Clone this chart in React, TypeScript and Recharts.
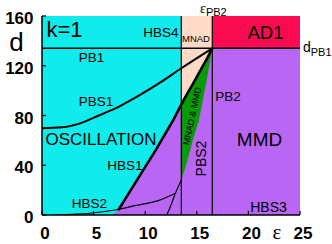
import React from 'react';
import { ComposedChart, XAxis, YAxis, Area, Line, ReferenceLine, ReferenceDot } from 'recharts';

const FONT = '"Liberation Sans", Arial, Helvetica, sans-serif';
const SERIF = '"Liberation Serif", "DejaVu Serif", serif';

const xTicks = [0, 5, 10, 15, 20, 25];
const yTicks = [0, 40, 80, 120, 160];
const innerXTicks = [5, 10, 15, 20];
const innerYTicks = [40, 80, 120];

const dPB1 = 134;
const epsMNAD = 13.5;
const epsPB2 = 16.5;

// HBS1 boundary (thick line)
const hbs1Eps = [7.4, 9.2, 11.0, 12.7, 13.5, 14.1, 14.6, 15.2, 16.0, 16.5];
const hbs1D = [4, 28, 52, 76, 89, 98, 105, 114, 126, 134];

// PBS2 upper branch (right edge of green region)
const pbs2UpEps = [13.5, 14.1, 14.6, 15.2, 16.0, 16.5];
const pbs2UpD = [28, 44, 60, 76, 110, 134];

// PBS2 lower branch
const pbs2LoEps = [12.1, 12.5, 12.9, 13.5];
const pbs2LoD = [0, 8, 17, 28];

// PBS1
const pbs1Eps = [0, 1.94, 3.68, 5.62, 7.56, 9.5, 11.43, 13.5, 16.5];
const pbs1D = [69.7, 70.5, 73.7, 80.4, 87.6, 96.5, 106.4, 118, 134];

// HBS2
const hbs2Eps = [1.2, 3, 4.65, 7.07, 9, 11.4, 13.0];
const hbs2D = [0, 0.6, 1.4, 4, 7.5, 12, 17.7];

// Oscillation region lower boundary
const oscEps = [0, 6.8, 7.4, 9.2, 11.0, 12.7, 13.5];
const oscLow = [0, 0, 4, 28, 52, 76, 89];

const TOP = 160;

const CYAN = '#10ECEC';
const PURPLE = '#B966F4';
const RED = '#FA0A50';
const PEACH = '#FFDAC6';
const GREEN = '#089A08';

const pts = (es: number[], ds: number[]) => es.map((e, i) => ({ e, d: ds[i] }));
const band = (es: number[], lo: number[], hi: number[]) => es.map((e, i) => ({ e, r: [lo[i], hi[i]] }));

const purpleData = band([0, 25], [0, 0], [dPB1, dPB1]);
const redData = band([epsPB2, 25], [dPB1, dPB1], [TOP, TOP]);
const cyanData = band(oscEps, oscLow, oscEps.map(() => TOP));
const peachData = band(pbs2UpEps, hbs1D.slice(4), pbs2UpEps.map(() => TOP));
const greenData = band(pbs2UpEps, pbs2UpD, hbs1D.slice(4));

type TagOpts = {
  size: number;
  rot?: number;
  anchor?: 'start' | 'middle' | 'end';
  baseline?: boolean;
  sub?: string;
  subSize?: number;
  subDy?: number;
  family?: string;
};

function tag(key: string, e: number, d: number, text: string, o: TagOpts) {
  return (
    <ReferenceDot
      key={key}
      x={e}
      y={d}
      r={0}
      ifOverflow="visible"
      shape={(p: any) => {
        const cx = p.cx;
        const cy = p.cy;
        return (
          <text
            x={cx}
            y={cy}
            dy={o.baseline ? 0 : '0.36em'}
            textAnchor={o.anchor || 'middle'}
            fontSize={o.size}
            fontFamily={o.family || FONT}
            fill="#000"
            transform={o.rot ? `rotate(${o.rot} ${cx} ${cy})` : undefined}
          >
            {text}
            {o.sub ? (
              <tspan fontSize={o.subSize} dy={o.subDy} fontFamily={FONT}>
                {o.sub}
              </tspan>
            ) : null}
          </text>
        );
      }}
    />
  );
}

const XTick = (p: any) => (
  <text x={p.x + 3} y={p.y + 28} textAnchor="middle" fontSize={17} fontWeight="bold" fontFamily={FONT} fill="#000">
    {p.payload.value}
  </text>
);

const YTick = (p: any) => (
  <text x={p.x - 12.5} y={p.y + 8} textAnchor="end" fontSize={17} fontWeight="bold" fontFamily={FONT} fill="#000">
    {p.payload.value}
  </text>
);

const axisLine = { stroke: '#000', strokeWidth: 1.5 };
const tickLine = { stroke: '#000', strokeWidth: 1.2 };

export default function App() {
  return (
    <div style={{ position: 'absolute', left: 0, top: 0, width: 332, height: 244, background: '#fff' }}>
      <ComposedChart width={332} height={244} margin={{ top: 16, right: 32, left: 0, bottom: 0 }}>
        <XAxis
          xAxisId={0}
          dataKey="e"
          type="number"
          domain={[0, 25]}
          ticks={xTicks}
          interval={0}
          allowDataOverflow
          height={29}
          tickSize={-4}
          tickMargin={0}
          axisLine={axisLine}
          tickLine={tickLine}
          tick={<XTick />}
        />
        <XAxis
          xAxisId="top"
          orientation="top"
          dataKey="e"
          type="number"
          domain={[0, 25]}
          ticks={innerXTicks}
          interval={0}
          allowDataOverflow
          height={0}
          tickSize={-4}
          axisLine={axisLine}
          tickLine={tickLine}
          tick={false}
        />
        <YAxis
          yAxisId={0}
          type="number"
          domain={[0, 160]}
          ticks={yTicks}
          interval={0}
          allowDataOverflow
          width={42}
          tickSize={-4}
          tickMargin={0}
          axisLine={axisLine}
          tickLine={tickLine}
          tick={<YTick />}
        />
        <YAxis
          yAxisId="right"
          orientation="right"
          type="number"
          domain={[0, 160]}
          ticks={innerYTicks}
          interval={0}
          allowDataOverflow
          width={0}
          tickSize={-4}
          axisLine={axisLine}
          tickLine={tickLine}
          tick={false}
        />

        <Area data={purpleData} dataKey="r" type="linear" fill={PURPLE} fillOpacity={1} stroke="none" isAnimationActive={false} dot={false} activeDot={false} />
        <Area data={redData} dataKey="r" type="linear" fill={RED} fillOpacity={1} stroke="none" isAnimationActive={false} dot={false} activeDot={false} />
        <Area data={cyanData} dataKey="r" type="linear" fill={CYAN} fillOpacity={1} stroke="none" isAnimationActive={false} dot={false} activeDot={false} />
        <Area data={peachData} dataKey="r" type="linear" fill={PEACH} fillOpacity={1} stroke="none" isAnimationActive={false} dot={false} activeDot={false} />
        <Area data={greenData} dataKey="r" type="linear" fill={GREEN} fillOpacity={1} stroke="none" isAnimationActive={false} dot={false} activeDot={false} />

        <ReferenceLine y={dPB1} stroke="#000" strokeWidth={1.5} />
        <ReferenceLine x={epsMNAD} stroke="#000" strokeWidth={1.2} />
        <ReferenceLine x={epsPB2} stroke="#000" strokeWidth={1.2} />

        <Line data={pts(hbs2Eps, hbs2D)} dataKey="d" type="monotone" stroke="#000" strokeWidth={1.2} dot={false} activeDot={false} isAnimationActive={false} />
        <Line data={pts(pbs2LoEps, pbs2LoD)} dataKey="d" type="monotone" stroke="#000" strokeWidth={1.2} dot={false} activeDot={false} isAnimationActive={false} />
        <Line data={pts(pbs1Eps, pbs1D)} dataKey="d" type="monotone" stroke="#000" strokeWidth={2} dot={false} activeDot={false} isAnimationActive={false} />
        <Line data={pts(hbs1Eps, hbs1D)} dataKey="d" type="linear" stroke="#000" strokeWidth={2.6} dot={false} activeDot={false} isAnimationActive={false} />

        {tag('k', 2.18, 149.1, 'k=1', { size: 22 })}
        {tag('hbs4', 11.53, 147.1, 'HBS4', { size: 13.5 })}
        {tag('mnadTop', 14.92, 141.5, 'MNAD', { size: 9.5 })}
        {tag('ad1', 21.66, 147.1, 'AD1', { size: 18.5 })}
        {tag('pb1', 4.8, 126.6, 'PB1', { size: 13.5 })}
        {tag('pbs1', 5.23, 91.2, 'PBS1', { size: 13.5 })}
        {tag('osc', 5.72, 61.5, 'OSCILLATION', { size: 17 })}
        {tag('hbs1', 8.04, 40.2, 'HBS1', { size: 13.5 })}
        {tag('hbs2', 4.6, 9.2, 'HBS2', { size: 13.5 })}
        {tag('pb2', 18.02, 95.7, 'PB2', { size: 13.5 })}
        {tag('mmd', 21.08, 60.7, 'MMD', { size: 19 })}
        {tag('hbs3', 21.95, 6.8, 'HBS3', { size: 14 })}
        {tag('pbs2', 15.41, 45.4, 'PBS2', { size: 14, rot: -90 })}
        {tag('mnadmmd', 14.53, 79.6, 'MNAD & MMD', { size: 9, rot: -78 })}
        {tag('dlab', -2.47, 139, 'd', { size: 26 })}
        {tag('elab', 22.77, -18.9, 'ε', { size: 21, anchor: 'middle', baseline: true, family: SERIF })}
        {tag('epb2', 15.31, 162.2, 'ε', { size: 14, anchor: 'start', baseline: true, family: SERIF, sub: 'PB2', subSize: 11, subDy: 3 })}
        {tag('dpb1', 25.29, 131, 'd', { size: 14, anchor: 'start', baseline: true, sub: 'PB1', subSize: 11, subDy: 4 })}
      </ComposedChart>
    </div>
  );
}
